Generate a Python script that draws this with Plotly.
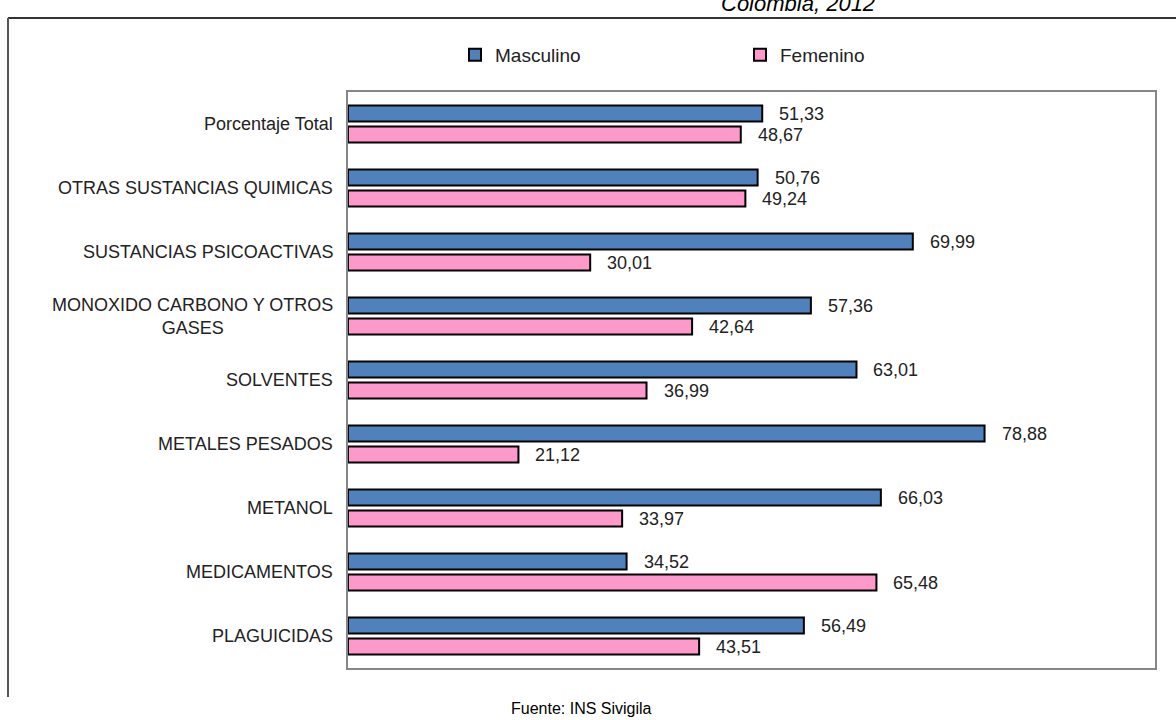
import plotly.graph_objects as go

# Categorías (de arriba hacia abajo) y porcentajes por sexo
categorias = [
    "Porcentaje Total",
    "OTRAS SUSTANCIAS QUIMICAS",
    "SUSTANCIAS PSICOACTIVAS",
    "MONOXIDO CARBONO Y OTROS<br>GASES",
    "SOLVENTES",
    "METALES PESADOS",
    "METANOL",
    "MEDICAMENTOS",
    "PLAGUICIDAS",
]
masculino = [51.33, 50.76, 69.99, 57.36, 63.01, 78.88, 66.03, 34.52, 56.49]
femenino = [48.67, 49.24, 30.01, 42.64, 36.99, 21.12, 33.97, 65.48, 43.51]

AZUL = "#4F81BD"
ROSA = "#FF99CC"
TEXTO = "#222222"
FUENTE = "Liberation Sans"

W, H = 1176, 720
L, R, T, B = 348, 21, 92, 52
PW, PH = W - L - R, H - T - B


def px_x(p):
    return (p - L) / PW


def px_y(p):
    return (H - B - p) / PH


def coma(v):
    return f"{v:.2f}".replace(".", ",")


fig = go.Figure()
fig.add_trace(go.Bar(
    name="Masculino", y=categorias, x=masculino, orientation="h",
    marker=dict(color=AZUL, line=dict(color="black", width=2)),
))
fig.add_trace(go.Bar(
    name="Femenino", y=categorias, x=femenino, orientation="h",
    marker=dict(color=ROSA, line=dict(color="black", width=2)),
))

etiqueta = dict(family=FUENTE, size=18, color=TEXTO)
annotations = []
# Etiquetas de valor a la derecha de cada barra
for cat, m, f in zip(categorias, masculino, femenino):
    annotations.append(dict(x=m, y=cat, xref="x", yref="y", text=coma(m),
                            xanchor="left", yanchor="middle", xshift=15, yshift=10.5,
                            showarrow=False, font=etiqueta))
    annotations.append(dict(x=f, y=cat, xref="x", yref="y", text=coma(f),
                            xanchor="left", yanchor="middle", xshift=15, yshift=-10.5,
                            showarrow=False, font=etiqueta))
# Nombres de categoría, líneas centradas entre sí
for cat in categorias:
    annotations.append(dict(x=0, y=cat, xref="paper", yref="y", text=cat,
                            xanchor="right", yanchor="middle", xshift=-13, align="center",
                            showarrow=False, font=etiqueta))
# Título y fuente
annotations.append(dict(x=px_x(798), y=px_y(3), xref="paper", yref="paper",
                        text="<i>Colombia, 2012</i>", xanchor="center", yanchor="middle",
                        showarrow=False,
                        font=dict(family="Liberation Sans", size=22, color="black")))
annotations.append(dict(x=px_x(581), y=px_y(708), xref="paper", yref="paper",
                        text="Fuente: INS Sivigila", xanchor="center", yanchor="middle",
                        showarrow=False,
                        font=dict(family="Liberation Sans", size=16, color="black")))

# Marco exterior del gráfico
marco_top = px_y(18)
shapes = [
    dict(type="line", xref="paper", yref="paper", x0=px_x(8), x1=px_x(1180),
         y0=marco_top, y1=marco_top, line=dict(color="#333333", width=2)),
    dict(type="line", xref="paper", yref="paper", x0=px_x(8), x1=px_x(8),
         y0=marco_top, y1=px_y(697), line=dict(color="#555555", width=2)),
]

fig.update_layout(
    width=W, height=H,
    margin=dict(l=L, r=R, t=T, b=B, pad=0),
    paper_bgcolor="white", plot_bgcolor="white",
    barmode="group", bargap=0.34, bargroupgap=0.24,
    showlegend=True,
    legend=dict(orientation="h", x=px_x(455), y=px_y(55), xanchor="left", yanchor="middle",
                entrywidth=240, entrywidthmode="pixels", itemwidth=30,
                font=dict(family=FUENTE, size=19, color=TEXTO), bgcolor="rgba(0,0,0,0)"),
    xaxis=dict(range=[0, 100], showgrid=False, zeroline=False, showticklabels=False,
               ticks="", showline=True, mirror=True, linecolor="#868686", linewidth=2,
               fixedrange=True),
    yaxis=dict(autorange="reversed", showgrid=False, zeroline=False, showticklabels=False,
               ticks="", showline=True, mirror=True, linecolor="#868686", linewidth=2,
               fixedrange=True),
    annotations=annotations,
    shapes=shapes,
)

fig.write_html("out.html", config={"displayModeBar": False})
